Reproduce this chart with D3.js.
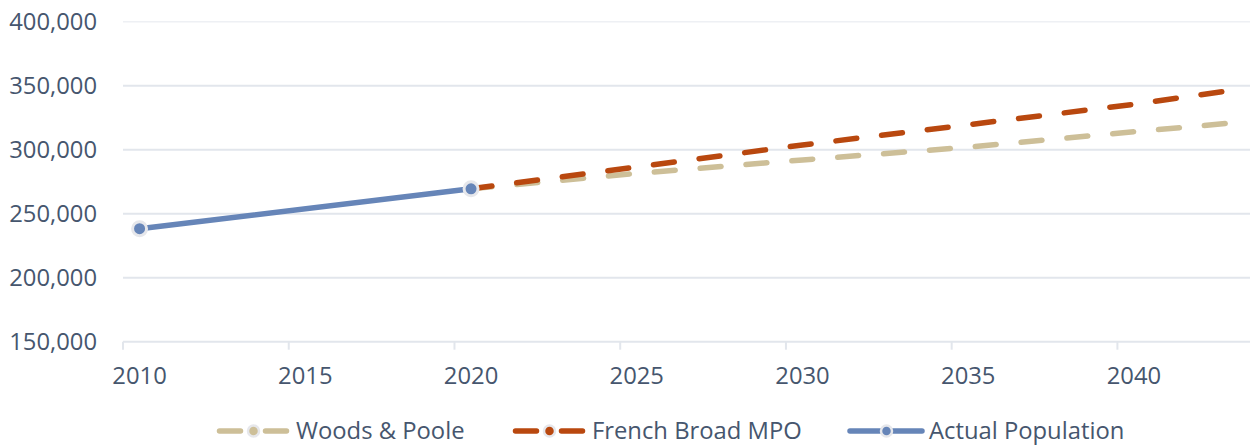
<!DOCTYPE html>
<html>
<head>
<meta charset="utf-8">
<script src="https://cdn.jsdelivr.net/npm/d3@7"></script>
<style>
  html, body { margin: 0; padding: 0; background: #ffffff; }
  svg { display: block; font-family: "Open Sans", sans-serif; }
</style>
</head>
<body>
<svg id="chart" width="1255" height="445"></svg>
<script>
// Population figures and projections
const years = d3.range(2010, 2044);
const yTicks = [150000, 200000, 250000, 300000, 350000, 400000];
const xTickYears = [2010, 2015, 2020, 2025, 2030, 2035, 2040];

const actualYears = [2010, 2020];
const actualValues = [238318, 269452];

const projYears = [2020, 2025, 2030, 2035, 2040, 2043];
const woodsPooleValues = [269452, 281500, 292000, 302000, 314000, 321000];
const frenchBroadValues = [269452, 286500, 303700, 319500, 335500, 346600];

const seriesNames = ["Woods & Poole", "French Broad MPO", "Actual Population"];
const seriesColors = ["#cdbf98", "#b9480f", "#6685b8"];

const svg = d3.select("#chart");
const plotLeft = 123, plotRight = 1250, plotTop = 21.7, plotBottom = 341.7;
const textColor = "#46566e";
const gridColor = "#e2e6ec";
const fontSize = "23.8px";

const x = d3.scaleBand().domain(years).range([plotLeft, plotRight]).paddingInner(0).paddingOuter(0);
const xc = yr => x(yr) + x.bandwidth() / 2;
const y = d3.scaleLinear().domain([150000, 400000]).range([plotBottom, plotTop]);

// horizontal grid
svg.append("g")
  .selectAll("line")
  .data(yTicks)
  .join("line")
  .attr("x1", plotLeft).attr("x2", plotRight)
  .attr("y1", d => y(d)).attr("y2", d => y(d))
  .attr("stroke", gridColor)
  .attr("stroke-width", d => d === 400000 ? 1.5 : 2)
  .attr("stroke-opacity", d => d === 400000 ? 0.6 : 1);

// y axis labels
const yAxis = d3.axisLeft(y).tickValues(yTicks).tickFormat(d3.format(",")).tickSize(0).tickPadding(0);
const gy = svg.append("g").attr("transform", `translate(97,0)`).call(yAxis);
gy.select(".domain").remove();
gy.selectAll("text")
  .attr("fill", textColor)
  .style("font-size", fontSize)
  .style("font-family", "'Open Sans', sans-serif");

// x axis: ticks at band starts, labels centred in band
const gx = svg.append("g").attr("transform", `translate(0,${plotBottom})`);
gx.selectAll("line.tick")
  .data(xTickYears)
  .join("line")
  .attr("class", "tick")
  .attr("x1", d => x(d)).attr("x2", d => x(d))
  .attr("y1", 0).attr("y2", 8)
  .attr("stroke", gridColor).attr("stroke-width", 2);
gx.selectAll("text")
  .data(xTickYears)
  .join("text")
  .attr("x", d => xc(d))
  .attr("y", 34)
  .attr("dy", "0.35em")
  .attr("text-anchor", "middle")
  .attr("fill", textColor)
  .style("font-size", fontSize)
  .text(d => d);

// lines
const line = d3.line().x(d => xc(d[0])).y(d => y(d[1]));
const dash = "21 25";

svg.append("path")
  .datum(d3.zip(projYears, woodsPooleValues))
  .attr("d", line)
  .attr("fill", "none")
  .attr("stroke", seriesColors[0])
  .attr("stroke-width", 5.5)
  .attr("stroke-linecap", "round")
  .attr("stroke-dasharray", dash);

svg.append("path")
  .datum(d3.zip(projYears, frenchBroadValues))
  .attr("d", line)
  .attr("fill", "none")
  .attr("stroke", seriesColors[1])
  .attr("stroke-width", 5.5)
  .attr("stroke-linecap", "round")
  .attr("stroke-dasharray", dash);

const actual = d3.zip(actualYears, actualValues);
svg.append("path")
  .datum(actual)
  .attr("d", line)
  .attr("fill", "none")
  .attr("stroke", seriesColors[2])
  .attr("stroke-width", 5.5)
  .attr("stroke-linecap", "round");

svg.append("g")
  .selectAll("circle")
  .data(actual)
  .join("circle")
  .attr("cx", d => xc(d[0]))
  .attr("cy", d => y(d[1]))
  .attr("r", 7)
  .attr("fill", seriesColors[2])
  .attr("stroke", "#e6e7eb")
  .attr("stroke-width", 3);

// legend
const legendX = [217, 513, 850];
const legendY = 431;
const legend = svg.append("g");
seriesNames.forEach((name, i) => {
  const g = legend.append("g").attr("transform", `translate(${legendX[i]},${legendY})`);
  g.append("line")
    .attr("x1", 0).attr("x2", 72)
    .attr("y1", 0).attr("y2", 0)
    .attr("stroke", seriesColors[i])
    .attr("stroke-width", 5.5)
    .attr("stroke-linecap", "round")
    .attr("stroke-dasharray", i < 2 ? "21 25" : null)
    .attr("transform", i < 2 ? "translate(2.5,0)" : null);
  g.append("circle")
    .attr("cx", 36.5).attr("cy", 0).attr("r", 5.5)
    .attr("fill", seriesColors[i])
    .attr("stroke", "#e6e7eb")
    .attr("stroke-width", 2.5);
  g.append("text")
    .attr("x", 79).attr("y", 0)
    .attr("dy", "0.35em")
    .attr("fill", textColor)
    .style("font-size", fontSize)
    .text(name);
});
</script>
</body>
</html>
